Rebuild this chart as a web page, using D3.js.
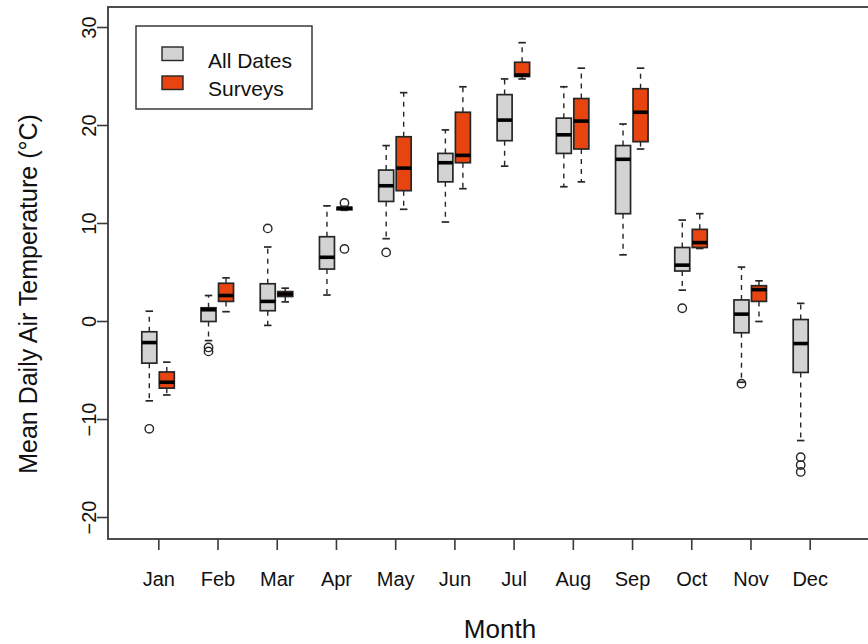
<!DOCTYPE html>
<html>
<head>
<meta charset="utf-8">
<script src="https://cdn.jsdelivr.net/npm/d3@7"></script>
<style>
  html, body { margin: 0; padding: 0; background: #fff; }
  svg { display: block; font-family: "Liberation Sans", Arial, sans-serif; }
</style>
</head>
<body>
<svg id="chart" width="868" height="644"></svg>
<script>
// Months on the x axis
const months = ["Jan","Feb","Mar","Apr","May","Jun","Jul","Aug","Sep","Oct","Nov","Dec"];
const yTicks = [-20, -10, 0, 10, 20, 30];

// "All Dates" five-number summaries (lower whisker, Q1, median, Q3, upper whisker) and outliers
const allLo  = [-8.15, -2.0, -0.45, 2.65, 8.4, 10.1, 15.8, 13.7, 6.75, 3.15, -6.25, -12.2];
const allQ1  = [-4.3, -0.05, 1.05, 5.3, 12.2, 14.2, 18.4, 17.1, 10.95, 5.1, -1.2, -5.25];
const allMed = [-2.2, 1.15, 2.0, 6.5, 13.8, 16.15, 20.5, 19.0, 16.5, 5.7, 0.7, -2.3];
const allQ3  = [-1.1, 1.35, 3.8, 8.6, 15.4, 17.1, 23.1, 20.7, 17.9, 7.5, 2.15, 0.15];
const allHi  = [1.0, 2.6, 7.55, 11.75, 17.9, 19.5, 24.7, 23.9, 20.1, 10.3, 5.5, 1.8];
const allOut = [[-11.0], [-2.7, -3.1], [9.45], [], [7.0], [], [], [], [], [1.3], [-6.4], [-13.9, -14.7, -15.4]];

// "Surveys" summaries (no surveys in December)
const srvLo  = [-7.55, 0.95, 1.95, 11.3, 11.4, 13.5, 24.7, 14.2, 17.55, 7.4, -0.05, null];
const srvQ1  = [-6.85, 2.0, 2.5, 11.35, 13.3, 16.15, 24.95, 17.55, 18.3, 7.5, 2.0, null];
const srvMed = [-6.25, 2.6, 2.75, 11.5, 15.6, 16.9, 25.1, 20.4, 21.3, 8.0, 3.2, null];
const srvQ3  = [-5.2, 3.85, 3.0, 11.6, 18.8, 21.3, 26.4, 22.7, 23.7, 9.35, 3.6, null];
const srvHi  = [-4.2, 4.4, 3.35, 11.7, 23.3, 23.9, 28.4, 25.8, 25.8, 10.95, 4.1, null];
const srvOut = [[], [], [], [12.05, 7.35], [], [], [], [], [], [], [], []];

const seriesNames = ["All Dates", "Surveys"];
const seriesColors = ["#d3d3d3", "#e8440f"];

const svg = d3.select("#chart");
const plot = { left: 108, right: 892, top: 7, bottom: 539 };

const x = d3.scalePoint().domain(months).range([158.3, 809.7]);
const y = d3.scaleLinear().domain([-20, 30]).range([517, 27]);

const boxW = 15;
const offsets = [-9, 8.5];
const ink = "#262626";

function build(lo, q1, med, q3, hi, out, s) {
  return months.map((m, i) => ({
    month: m, s, lo: lo[i], q1: q1[i], med: med[i], q3: q3[i], hi: hi[i], out: out[i]
  })).filter(d => d.med !== null);
}
const boxes = build(allLo, allQ1, allMed, allQ3, allHi, allOut, 0)
  .concat(build(srvLo, srvQ1, srvMed, srvQ3, srvHi, srvOut, 1));

const g = svg.append("g");
const cx = d => x(d.month) + offsets[d.s];

// dashed whiskers
g.selectAll(".wh-up").data(boxes).join("line")
  .attr("x1", cx).attr("x2", cx)
  .attr("y1", d => y(d.q3)).attr("y2", d => y(d.hi))
  .attr("stroke", ink).attr("stroke-width", 1.4).attr("stroke-dasharray", "5,5");
g.selectAll(".wh-dn").data(boxes).join("line")
  .attr("x1", cx).attr("x2", cx)
  .attr("y1", d => y(d.q1)).attr("y2", d => y(d.lo))
  .attr("stroke", ink).attr("stroke-width", 1.4).attr("stroke-dasharray", "5,5");

// staples
["hi", "lo"].forEach(k => {
  g.selectAll(".cap-" + k).data(boxes).join("line")
    .attr("x1", d => cx(d) - boxW / 4).attr("x2", d => cx(d) + boxW / 4)
    .attr("y1", d => y(d[k])).attr("y2", d => y(d[k]))
    .attr("stroke", ink).attr("stroke-width", 1.7);
});

// boxes
g.selectAll(".box").data(boxes).join("rect")
  .attr("x", d => cx(d) - boxW / 2).attr("width", boxW)
  .attr("y", d => y(d.q3)).attr("height", d => Math.max(0.5, y(d.q1) - y(d.q3)))
  .attr("fill", d => seriesColors[d.s])
  .attr("stroke", ink).attr("stroke-width", 1.7);

// medians
g.selectAll(".med").data(boxes).join("line")
  .attr("x1", d => cx(d) - boxW / 2).attr("x2", d => cx(d) + boxW / 2)
  .attr("y1", d => y(d.med)).attr("y2", d => y(d.med))
  .attr("stroke", "#000").attr("stroke-width", 3.6);

// outliers
const outs = boxes.flatMap(d => d.out.map(v => ({ month: d.month, s: d.s, v })));
g.selectAll(".out").data(outs).join("circle")
  .attr("cx", cx).attr("cy", d => y(d.v)).attr("r", 4.2)
  .attr("fill", "none").attr("stroke", ink).attr("stroke-width", 1.4);

// frame
svg.append("rect")
  .attr("x", plot.left).attr("y", plot.top)
  .attr("width", plot.right - plot.left).attr("height", plot.bottom - plot.top)
  .attr("fill", "none").attr("stroke", "#3a3a3a").attr("stroke-width", 1.8);

// y axis
const yAxis = svg.append("g").attr("transform", `translate(${plot.left},0)`)
  .call(d3.axisLeft(y).tickValues(yTicks).tickSize(11).tickFormat(d3.format("d")));
yAxis.select(".domain").remove();
yAxis.selectAll(".tick line").attr("stroke", "#3a3a3a").attr("stroke-width", 1.6);
yAxis.selectAll(".tick text")
  .attr("x", null).attr("dy", null)
  .attr("transform", "translate(-12,0) rotate(-90)")
  .attr("text-anchor", "middle")
  .attr("font-size", 20).attr("fill", "#111")
  .attr("font-family", "Liberation Sans, Arial, sans-serif");

// x axis
const xAxis = svg.append("g").attr("transform", `translate(0,${plot.bottom})`)
  .call(d3.axisBottom(x).tickSize(11));
xAxis.select(".domain").remove();
xAxis.selectAll(".tick line").attr("stroke", "#3a3a3a").attr("stroke-width", 1.6);
xAxis.selectAll(".tick text")
  .attr("y", 47).attr("dy", null)
  .attr("font-size", 20).attr("fill", "#111")
  .attr("font-family", "Liberation Sans, Arial, sans-serif");

// axis titles
svg.append("text")
  .attr("x", (plot.left + plot.right) / 2).attr("y", 638)
  .attr("text-anchor", "middle").attr("font-size", 26).attr("fill", "#111")
  .text("Month");
svg.append("text")
  .attr("transform", "translate(37,294) rotate(-90)")
  .attr("text-anchor", "middle").attr("font-size", 25).attr("fill", "#111")
  .text("Mean Daily Air Temperature (°C)");

// legend
const leg = svg.append("g");
leg.append("rect").attr("x", 136).attr("y", 26).attr("width", 176).attr("height", 83)
  .attr("fill", "#fff").attr("stroke", "#3a3a3a").attr("stroke-width", 1.5);
seriesNames.forEach((name, i) => {
  leg.append("rect").attr("x", 162).attr("y", 47 + i * 29).attr("width", 21).attr("height", 13.5)
    .attr("fill", seriesColors[i]).attr("stroke", ink).attr("stroke-width", 1.4);
  leg.append("text").attr("x", 208).attr("y", 67.5 + i * 28.5)
    .attr("font-size", 21).attr("fill", "#111").text(name);
});
</script>
</body>
</html>
